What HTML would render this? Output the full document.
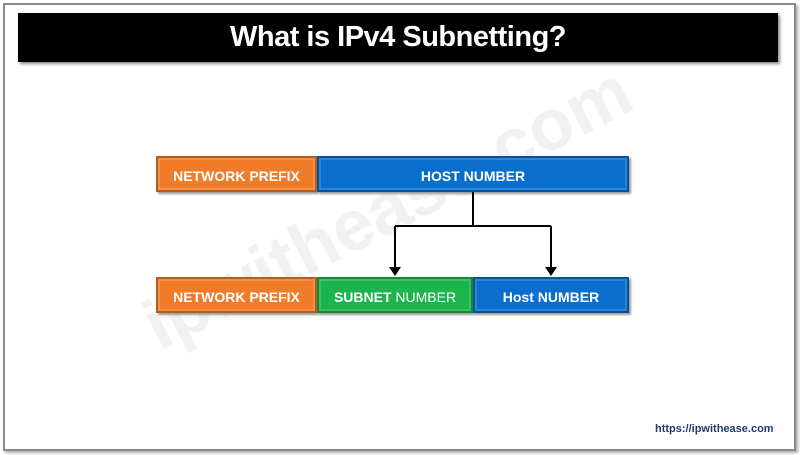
<!DOCTYPE html>
<html><head><style>
body{margin:0;width:800px;height:455px;background:#fff;position:relative;overflow:hidden;font-family:"Liberation Sans",sans-serif}
.frame{position:absolute;left:3px;top:3px;width:789px;height:444px;border:2px solid #8a8a8a;box-shadow:2px 2px 3px #aaa}
.title{position:absolute;left:18px;top:13px;width:760px;height:49px;background:#000;color:#fff;font-weight:bold;font-size:29px;text-align:center;line-height:49px;box-shadow:2px 2px 3px #888;letter-spacing:-0.5px}
.b{position:absolute;height:36px;line-height:36px;color:#fff;font-weight:bold;font-size:14px;text-align:center;box-sizing:border-box;border:2px solid rgba(0,0,0,.25);box-shadow:inset 0 0 0 2px rgba(255,255,255,.15),2px 2px 2px #999}
.o{background:#f07c2a}.bl{background:#0a6fcc}.g{background:#1db34d}
.wm{position:absolute;font-size:72px;font-weight:bold;color:#f1f1f1;transform:rotate(-27deg);transform-origin:left bottom;white-space:nowrap;line-height:72px}
</style></head><body>
<div class="frame"></div>
<div class="wm" style="left:165px;top:290px">ipwithease.com</div>
<div class="title">What is IPv4 Subnetting?</div>
<div class="b o" style="left:156px;top:156px;width:161px">NETWORK PREFIX</div>
<div class="b bl" style="left:317px;top:156px;width:312px">HOST NUMBER</div>
<div class="b o" style="left:156px;top:277px;width:161px">NETWORK PREFIX</div>
<div class="b g" style="left:317px;top:277px;width:156px">SUBNET <span style="font-weight:normal">NUMBER</span></div>
<div class="b bl" style="left:473px;top:277px;width:156px">Host NUMBER</div>
<svg style="position:absolute;left:0;top:0" width="800" height="455">
<path d="M473 192V226M395 226H551M395 226V268M551 226V268" stroke="#000" stroke-width="2" fill="none"/>
<path d="M389 267h12l-6 9z M545 267h12l-6 9z" fill="#000"/>
</svg>
<div style="position:absolute;left:655px;top:423px;font-size:11px;font-weight:bold;color:#1f3a6e">https://ipwithease.com</div>
</body></html>
